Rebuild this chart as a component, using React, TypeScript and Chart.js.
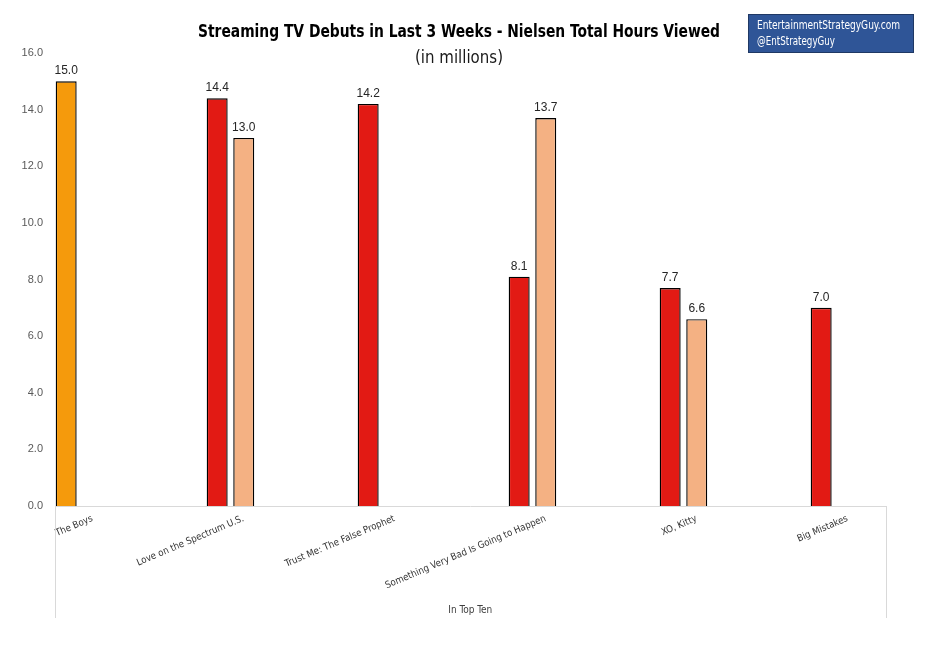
import React, { useEffect, useRef } from "react";
import { Chart, registerables } from "chart.js";

Chart.register(...registerables);

const categories = [
  "The Boys",
  "Love on the Spectrum U.S.",
  "Trust Me: The False Prophet",
  "Something Very Bad Is Going to Happen",
  "XO, Kitty",
  "Big Mistakes",
];
const firstValues: (number | null)[] = [15.0, 14.4, 14.2, 8.1, 7.7, 7.0];
const secondValues: (number | null)[] = [null, 13.0, null, 13.7, 6.6, null];
const yMin = 0;
const yMax = 16;
const yStep = 2;
const titleText = "Streaming TV Debuts in Last 3 Weeks - Nielsen Total Hours Viewed";
const subtitleText = "(in millions)";
const groupLabel = "In Top Ten";
const creditLines = ["EntertainmentStrategyGuy.com", "@EntStrategyGuy"];

const NARROW = "'DejaVu Sans Condensed', 'Liberation Sans Narrow', sans-serif";
const SANS = "'Liberation Sans', Arial, sans-serif";

const ORANGE = "#F59A0C";
const RED = "#E21A14";
const SALMON = "#F4B183";

// draw text horizontally condensed so it spans a given width
function drawCondensed(
  ctx: CanvasRenderingContext2D,
  text: string,
  x: number,
  y: number,
  width: number,
  align: "left" | "center"
) {
  const w = ctx.measureText(text).width;
  const sx = width / w;
  ctx.save();
  ctx.textAlign = "left";
  const startX = align === "center" ? x - width / 2 : x;
  ctx.translate(startX, y);
  ctx.scale(sx, 1);
  ctx.fillText(text, 0, 0);
  ctx.restore();
}

const valueLabels = {
  id: "valueLabels",
  afterDatasetsDraw(chart: any) {
    const ctx = chart.ctx;
    ctx.save();
    ctx.font = `12px ${SANS}`;
    ctx.fillStyle = "#262626";
    ctx.textAlign = "center";
    ctx.textBaseline = "alphabetic";
    chart.data.datasets.forEach((ds: any, di: number) => {
      const meta = chart.getDatasetMeta(di);
      meta.data.forEach((el: any, i: number) => {
        const v = ds.data[i].y;
        if (v == null) return;
        ctx.fillText(Number(v).toFixed(1), el.x, el.y - 7);
      });
    });
    ctx.restore();
  },
};

const decor = {
  id: "decor",
  afterDraw(chart: any) {
    const { ctx, chartArea: a } = chart;
    ctx.save();
    ctx.textBaseline = "alphabetic";
    ctx.fillStyle = "#000000";
    ctx.font = `bold 17px ${NARROW}`;
    drawCondensed(ctx, titleText, 459, 37, 522, "center");
    ctx.fillStyle = "#1A1A1A";
    ctx.font = `18px ${NARROW}`;
    drawCondensed(ctx, subtitleText, 459, 63, 88, "center");

    // group bracket
    ctx.strokeStyle = "#D9D9D9";
    ctx.lineWidth = 1;
    const lx = Math.round(a.left) + 0.5;
    const rx = Math.round(a.right) + 0.5;
    ctx.beginPath();
    ctx.moveTo(lx, a.bottom);
    ctx.lineTo(lx, 618);
    ctx.moveTo(rx, a.bottom);
    ctx.lineTo(rx, 618);
    ctx.stroke();
    ctx.fillStyle = "#404040";
    ctx.font = `11px ${NARROW}`;
    ctx.textBaseline = "middle";
    drawCondensed(ctx, groupLabel, (a.left + a.right) / 2, 610, 44, "center");

    // credit box
    ctx.fillStyle = "#2F5597";
    ctx.fillRect(748, 14, 166, 39);
    ctx.strokeStyle = "#1F3864";
    ctx.strokeRect(748.5, 14.5, 165, 38);
    ctx.fillStyle = "#FFFFFF";
    ctx.font = `12px ${NARROW}`;
    drawCondensed(ctx, creditLines[0], 757, 26, 143, "left");
    drawCondensed(ctx, creditLines[1], 757, 42, 78, "left");
    ctx.restore();
  },
};

export default function App() {
  const ref = useRef<HTMLCanvasElement | null>(null);

  useEffect(() => {
    if (!ref.current) return;
    const chart = new Chart(ref.current, {
      type: "bar",
      data: {
        datasets: [
          {
            label: "First week",
            data: categories.map((_, i) => ({ x: i, y: firstValues[i] })) as any,
            backgroundColor: categories.map((_, i) => (i === 0 ? ORANGE : RED)),
            borderColor: "#000000",
            borderWidth: 1.4,
            categoryPercentage: 0.352,
            barPercentage: 0.79,
          },
          {
            label: "Second week",
            data: categories.map((_, i) => ({ x: i, y: secondValues[i] })) as any,
            backgroundColor: SALMON,
            borderColor: "#000000",
            borderWidth: 1.4,
            categoryPercentage: 0.352,
            barPercentage: 0.79,
          },
        ],
      },
      options: {
        animation: false,
        responsive: false,
        layout: { padding: { top: 53, right: 45.5, left: 0, bottom: 0 } },
        plugins: {
          legend: { display: false },
          tooltip: { enabled: false },
          title: { display: false },
        },
        scales: {
          x: {
            type: "linear",
            min: -0.162,
            max: 5.338,
            offset: false,
            grid: { display: false, drawTicks: false },
            border: { display: true, color: "#D9D9D9", width: 1 },
            afterBuildTicks: (s: any) => {
              s.ticks = categories.map((_, i) => ({ value: i }));
            },
            afterFit: (s: any) => {
              s.height = 143;
            },
            ticks: {
              autoSkip: false,
              minRotation: 23,
              maxRotation: 23,
              padding: 7,
              labelOffset: 13,
              color: "#333333",
              font: { family: NARROW, size: 9.6 },
              callback: (_v: any, index: number) => categories[index] ?? "",
            },
          } as any,
          y: {
            min: yMin,
            max: yMax,
            grid: { display: false, drawTicks: false },
            border: { display: false },
            afterFit: (s: any) => {
              s.width = 55;
            },
            ticks: {
              stepSize: yStep,
              padding: 12,
              color: "#595959",
              font: { family: SANS, size: 11 },
              callback: (v: any) => Number(v).toFixed(1),
            },
          },
        },
      },
      plugins: [valueLabels, decor],
    });
    return () => chart.destroy();
  }, []);

  return (
    <div style={{ position: "absolute", left: 0, top: 0, width: 931, height: 649, background: "#ffffff" }}>
      <canvas ref={ref} width={931} height={649} />
    </div>
  );
}
